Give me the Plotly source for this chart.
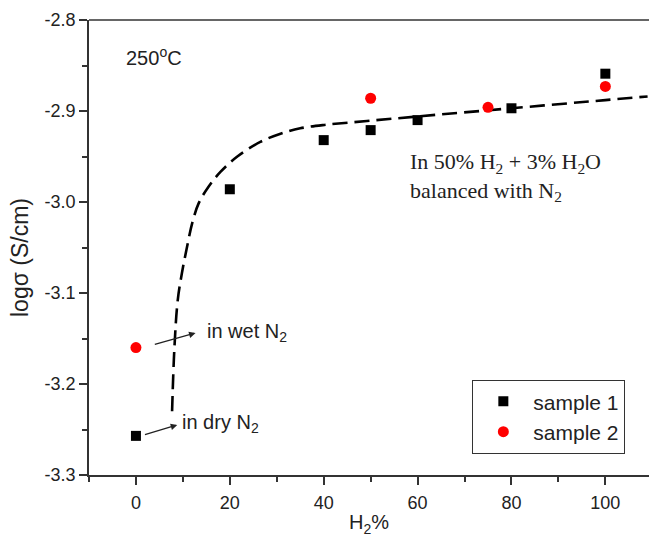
import plotly.graph_objects as go

# Measured conductivity at 250 °C versus H2 content
s1_x = [0, 20, 40, 50, 60, 80, 100]
s1_y = [-3.257, -2.986, -2.932, -2.921, -2.910, -2.897, -2.859]

s2_x = [0, 50, 75, 100]
s2_y = [-3.160, -2.886, -2.896, -2.873]

# Guide-to-the-eye trend curve
fit_x = [7.7, 8.2, 8.9, 9.8, 10.9, 12.0, 13.4, 15.5, 18.0, 21.6, 26.5, 30.8, 35.0, 40.7, 49.2, 60, 80, 100, 109]
fit_y = [-3.230, -3.160, -3.108, -3.078, -3.049, -3.023, -3.001, -2.983, -2.967, -2.950, -2.934,
         -2.925, -2.919, -2.915, -2.911, -2.906, -2.897, -2.888, -2.884]

x_ticks = [0, 20, 40, 60, 80, 100]
y_ticks = [-3.3, -3.2, -3.1, -3.0, -2.9, -2.8]
y_tick_text = ["-3.3", "-3.2", "-3.1", "-3.0", "-2.9", "-2.8"]

SANS = "Liberation Sans, Arial, sans-serif"
SERIF = "Liberation Serif, Times New Roman, serif"
INK = "#222"

fig = go.Figure()
fig.add_trace(go.Scatter(
    x=fit_x, y=fit_y, mode="lines", line_shape="spline",
    line=dict(color="black", width=2.6, dash="15px,7px"),
    showlegend=False, hoverinfo="skip"))
fig.add_trace(go.Scatter(
    x=s1_x, y=s1_y, mode="markers", name="sample 1",
    marker=dict(symbol="square", size=10, color="black")))
fig.add_trace(go.Scatter(
    x=s2_x, y=s2_y, mode="markers", name="sample 2",
    marker=dict(symbol="circle", size=11, color="#ff0000")))

axis_common = dict(
    showline=True, linecolor="#333", linewidth=1.5, mirror=False,
    ticks="outside", ticklen=8, tickwidth=1.5, tickcolor="#333",
    showgrid=False, zeroline=False,
    tickfont=dict(family=SANS, size=18, color=INK),
)

fig.update_xaxes(
    range=[-10, 109.3], tickvals=x_ticks,
    minor=dict(ticks="outside", ticklen=5, tickwidth=1.5, tickcolor="#333", dtick=10, tick0=0),
    title=dict(text="H<sub>2</sub>%", font=dict(family=SANS, size=20, color=INK), standoff=3),
    ticklabelstandoff=3,
    **axis_common)
fig.update_yaxes(
    range=[-3.3, -2.8], tickvals=y_ticks, ticktext=y_tick_text,
    minor=dict(ticks="outside", ticklen=5, tickwidth=1.5, tickcolor="#333", dtick=0.05, tick0=-3.3),
    **axis_common)

# Top frame line
fig.add_shape(type="line", xref="paper", yref="paper", x0=0, x1=1, y0=1, y1=1,
              line=dict(color="#333", width=1.5))

# Y-axis title
fig.add_annotation(x=-89 / 560 + 20 / 560, y=(475 - 258) / 455, xref="paper", yref="paper",
                   xanchor="center", yanchor="middle", textangle=-90,
                   text="logσ (S/cm)", showarrow=False,
                   font=dict(family=SANS, size=23, color=INK))

fig.add_annotation(x=-2.5, y=-2.840, xref="x", yref="y", xanchor="left", yanchor="middle",
                   text="250<sup>o</sup>C", showarrow=False,
                   font=dict(family=SANS, size=20, color=INK))
fig.add_annotation(x=58.0, y=-2.972, xref="x", yref="y", xanchor="left", yanchor="middle",
                   text="In 50% H<sub>2</sub> + 3% H<sub>2</sub>O<br>balanced with N<sub>2</sub>",
                   align="left", showarrow=False,
                   font=dict(family=SERIF, size=22, color=INK))

fig.add_annotation(x=14.8, y=-3.143, xref="x", yref="y", xanchor="left", yanchor="middle",
                   text="in wet N<sub>2</sub>", showarrow=False,
                   font=dict(family=SANS, size=20, color=INK))
fig.add_annotation(x=9.4, y=-3.243, xref="x", yref="y", xanchor="left", yanchor="middle",
                   text="in dry N<sub>2</sub>", showarrow=False,
                   font=dict(family=SANS, size=20, color=INK))

# Pointer arrows toward the labels
for tail, tip in [((3.7, -3.157), (12.7, -3.144)), ((1.6, -3.256), (8.8, -3.245))]:
    fig.add_annotation(x=tip[0], y=tip[1], ax=tail[0], ay=tail[1],
                       xref="x", yref="y", axref="x", ayref="y",
                       text="", showarrow=True, arrowhead=2, arrowsize=1,
                       arrowwidth=1.3, arrowcolor=INK, standoff=0, startstandoff=0)

fig.update_layout(
    width=649, height=545,
    margin=dict(l=89, r=0, t=20, b=70),
    plot_bgcolor="white", paper_bgcolor="white",
    legend=dict(x=0.684, y=0.209, xanchor="left", yanchor="top",
                bordercolor="#333", borderwidth=1.3, bgcolor="white",
                font=dict(family=SANS, size=21, color=INK),
                itemwidth=50, tracegroupgap=0),
)

fig.write_html("out.html")
